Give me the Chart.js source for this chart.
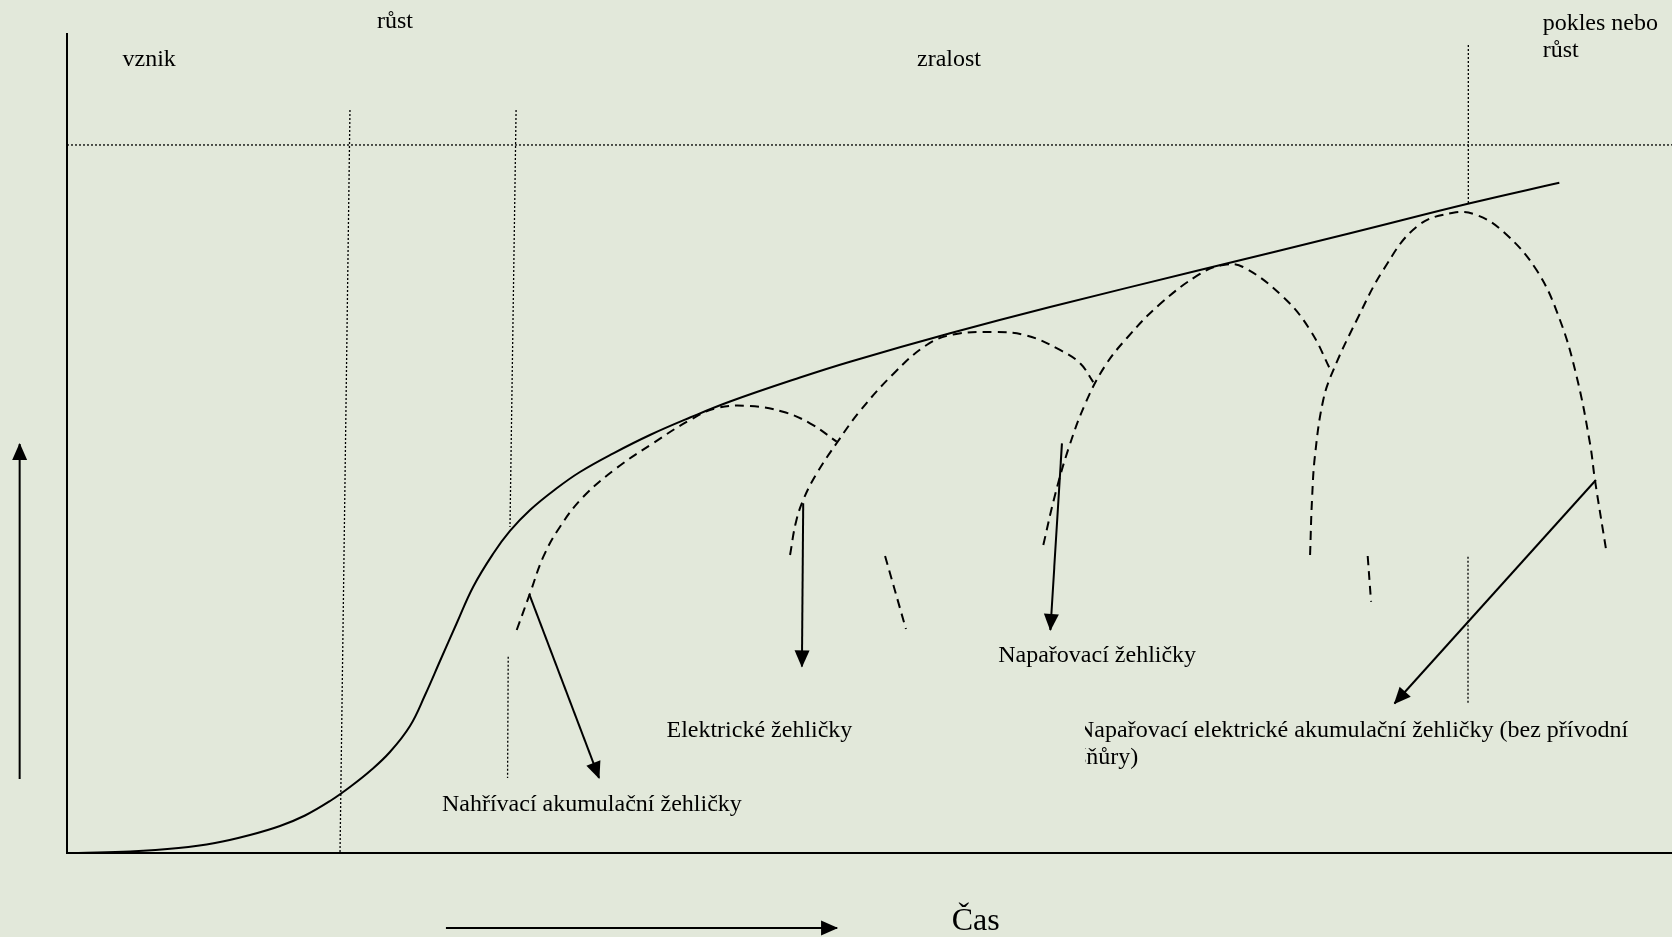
<!DOCTYPE html>
<html>
<head>
<meta charset="utf-8">
<title>Životní cyklus žehliček</title>
<script src="https://cdn.jsdelivr.net/npm/chart.js@4/dist/chart.umd.min.js"></script>
<style>
  html, body { margin: 0; padding: 0; background: #e2e8da; }
  #wrap { width: 1672px; height: 937px; position: relative; }
</style>
</head>
<body>
<div id="wrap"><canvas id="myChart"></canvas></div>
<script>
// Time runs 0..100 on x, sales 0..100 on y

// whole market curve (solid)
const marketCurve = [
  [0.72, 0], [3.93, 0.18], [6.95, 0.61], [9.22, 1.22], [11.40, 2.20],
  [13.27, 3.30], [14.83, 4.58], [16.39, 6.35], [17.63, 8.06], [18.88, 10.01],
  [20.12, 12.33], [21.37, 15.51], [22.31, 19.29], [23.24, 23.44], [24.28, 28.05],
  [25.31, 32.52], [26.56, 36.57], [27.60, 39.32], [28.85, 41.88], [30.51, 44.53],
  [31.96, 46.52], [34.04, 48.80], [36.32, 51.04], [38.82, 53.17], [41.31, 55.13],
  [45.67, 58.06], [48.79, 59.99], [55.02, 63.46], [61.25, 66.67], [70.59, 71.18],
  [79.94, 75.67], [87.41, 79.33], [92.98, 81.84]
];

// product curves (dashed)
const heatedIrons = [
  [28.02, 27.23], [28.85, 31.71], [29.68, 36.18], [30.72, 39.84], [32.17, 43.50],
  [34.25, 47.01], [36.53, 50.06], [38.82, 52.87], [40.48, 54.33], [42.55, 54.58],
  [44.61, 53.88], [46.29, 52.47], [47.96, 50.22]
];
const electricIrons = [
  [45.05, 36.39], [45.42, 40.42], [45.92, 43.35], [46.73, 46.40], [47.96, 50.06],
  [49.41, 53.97], [51.48, 58.49], [53.56, 62.03], [55.22, 63.31], [57.71, 63.61],
  [59.79, 63.19], [61.87, 61.42], [63.12, 59.79], [63.94, 57.50]
];
const electricTail = [[50.97, 36.26], [52.27, 27.35]];
const steamIrons = [
  [60.83, 37.61], [61.56, 43.71], [62.43, 49.57], [63.49, 55.07], [64.67, 59.46],
  [66.04, 62.88], [68.10, 67.03], [70.59, 70.70], [72.04, 71.79], [73.27, 71.55],
  [75.76, 67.92], [77.45, 63.86], [78.80, 58.67]
];
const steamTail = [[81.04, 36.26], [81.25, 30.68]];
const cordlessIrons = [
  [77.45, 36.39], [77.57, 43.10], [77.76, 48.60], [78.27, 55.31], [78.90, 58.97],
  [80.36, 65.08], [82.01, 71.18], [84.09, 76.47], [86.37, 78.18], [87.83, 77.90],
  [89.49, 75.86], [91.56, 71.18], [93.02, 65.08], [94.06, 58.16], [94.89, 50.02],
  [95.20, 45.54], [95.93, 36.59]
];

// phase borders (dotted)
const saturationLine = [[0, 86.45], [100, 86.45]];
const phaseBorders = [
  [[17.63, 90.72], [17.01, 0]],
  [[27.98, 90.72], [27.60, 39.80]],
  [[27.49, 23.97], [27.45, 9.16]],
  [[87.31, 98.66], [87.31, 79.37]],
  [[87.29, 36.18], [87.29, 18.22]]
];

// pointer arrows from the curves to their captions
const pointers = [
  [[28.80, 31.62], [33.15, 9.16]],
  [[45.87, 42.70], [45.79, 22.78]],
  [[61.99, 50.02], [61.27, 27.23]],
  [[95.26, 45.54], [82.71, 18.25]]
];
// axis direction arrows (outside the plot)
const salesArrow = [[-2.95, 9.04], [-2.95, 49.94]];
const timeArrow = [[23.61, -9.16], [47.98, -9.16]];

// captions: text, x, y (baseline) in chart units
const captions = [
  ['růst', 19.31, 100.69],
  ['vznik', 3.46, 96.09],
  ['zralost', 52.96, 96.09],
  ['pokles nebo', 91.94, 100.49],
  ['růst', 91.94, 97.25],
  ['Nahřívací akumulační žehličky', 23.36, 5.13],
  ['Elektrické žehličky', 37.35, 14.20],
  ['Napařovací žehličky', 58.02, 23.36]
];
// this one is cut off on the left in the original
const clippedCaption = ['Napařovací elektrické akumulační žehličky (bez přívodní', 'šňůry)'];
const clippedX = 62.93, clippedClip = 63.43, clippedY = [14.20, 10.87];
const timeTitle = ['Čas', 55.12, -9.40];

function pts(arr) {
  return arr.map(p => ({x: p[0], y: p[1]}));
}

function solid(arr, smooth) {
  return {data: pts(arr), borderColor: '#000', borderWidth: 2, showLine: true,
    pointRadius: 0, tension: smooth ? 0.4 : 0};
}
function dashed(arr) {
  let d = solid(arr, true);
  d.borderDash = [9, 6];
  return d;
}
function dotted(arr) {
  let d = solid(arr, false);
  d.borderWidth = 1.3;
  d.borderDash = [2, 2];
  return d;
}
function arrow(arr) {
  let d = solid(arr, false);
  d.arrow = true;
  d.clip = false;
  return d;
}

var datasets = [
  dotted(saturationLine),
  ...phaseBorders.map(dotted),
  solid(marketCurve, true),
  dashed(heatedIrons),
  dashed(electricIrons),
  dashed(electricTail),
  dashed(steamIrons),
  dashed(steamTail),
  dashed(cordlessIrons),
  ...pointers.map(arrow),
  arrow(salesArrow),
  arrow(timeArrow)
];

// filled heads at the end of arrow datasets
const arrowHeads = {
  id: 'arrowHeads',
  afterDatasetsDraw(chart) {
    const ctx = chart.ctx;
    chart.data.datasets.forEach((ds, i) => {
      if (!ds.arrow) return;
      const el = chart.getDatasetMeta(i).data;
      const a = el[el.length - 2], b = el[el.length - 1];
      const ang = Math.atan2(b.y - a.y, b.x - a.x);
      ctx.save();
      ctx.translate(b.x, b.y);
      ctx.rotate(ang);
      ctx.beginPath();
      ctx.moveTo(1, 0);
      ctx.lineTo(-16, -7.5);
      ctx.lineTo(-16, 7.5);
      ctx.closePath();
      ctx.fillStyle = '#000';
      ctx.fill();
      ctx.restore();
    });
  }
};

// all the texts
const textLabels = {
  id: 'textLabels',
  afterDraw(chart) {
    const ctx = chart.ctx;
    const sx = chart.scales.x, sy = chart.scales.y;
    ctx.save();
    ctx.fillStyle = '#000';
    ctx.textBaseline = 'alphabetic';
    ctx.textAlign = 'left';
    ctx.font = '24px "Liberation Serif", "Times New Roman", serif';
    captions.forEach(c => {
      ctx.fillText(c[0], sx.getPixelForValue(c[1]), sy.getPixelForValue(c[2]));
    });
    // clipped caption
    ctx.save();
    ctx.beginPath();
    ctx.rect(sx.getPixelForValue(clippedClip), 0, chart.width, chart.height);
    ctx.clip();
    clippedCaption.forEach((t, i) => {
      ctx.fillText(t, sx.getPixelForValue(clippedX), sy.getPixelForValue(clippedY[i]));
    });
    ctx.restore();
    ctx.font = '32px "Liberation Serif", "Times New Roman", serif';
    ctx.fillText(timeTitle[0], sx.getPixelForValue(timeTitle[1]), sy.getPixelForValue(timeTitle[2]));
    ctx.restore();
  }
};

function axis() {
  return {
    type: 'linear', min: 0, max: 100,
    grid: {display: false, drawTicks: false},
    ticks: {display: false},
    border: {display: true, color: '#000', width: 2}
  };
}

var chart = new Chart(document.getElementById('myChart'), {
  type: 'scatter',
  data: {datasets: datasets},
  options: {
    responsive: true,
    maintainAspectRatio: false,
    animation: false,
    layout: {padding: {left: 67, top: 34, right: 0, bottom: 84}},
    plugins: {legend: {display: false}, tooltip: {enabled: false}},
    scales: {x: axis(), y: axis()}
  },
  plugins: [arrowHeads, textLabels]
});
</script>
</body>
</html>
